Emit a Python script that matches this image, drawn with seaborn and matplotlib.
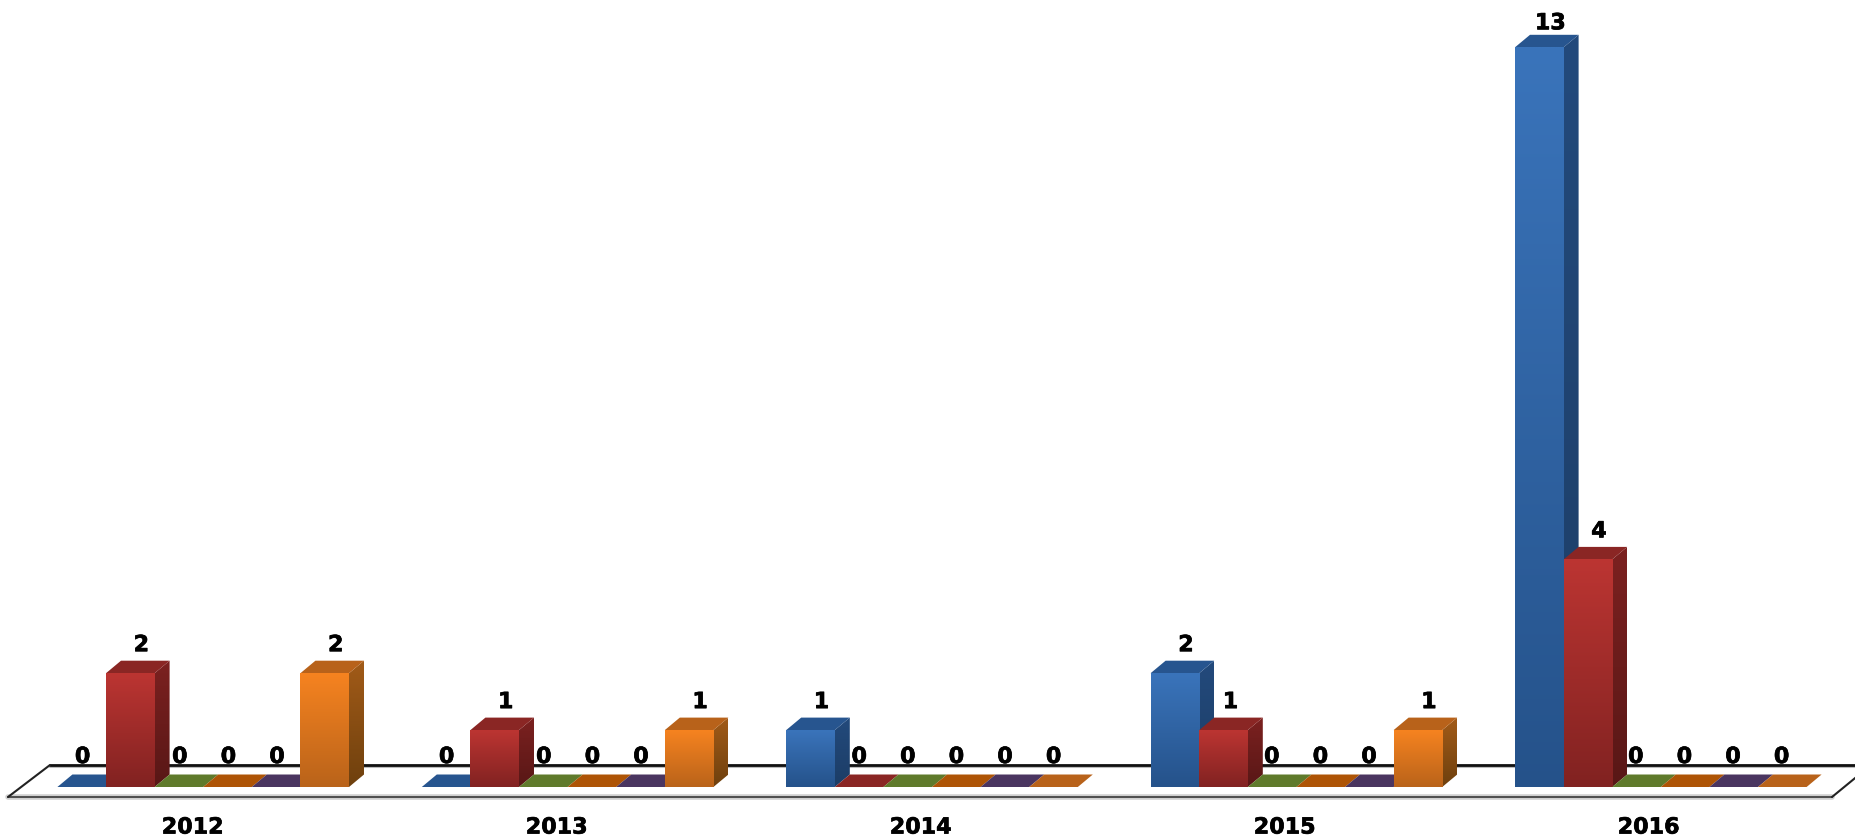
import numpy as np
import pandas as pd
import seaborn as sns
import matplotlib.pyplot as plt
import matplotlib.patheffects as pe
from matplotlib.colors import LinearSegmentedColormap
from matplotlib.patches import Polygon
from matplotlib.transforms import ScaledTranslation

years = ["2012", "2013", "2014", "2015", "2016"]
series_names = ["s1", "s2", "s3", "s4", "s5", "s6"]
s1 = [0, 0, 1, 2, 13]
s2 = [2, 1, 0, 1, 4]
s3 = [0, 0, 0, 0, 0]
s4 = [0, 0, 0, 0, 0]
s5 = [0, 0, 0, 0, 0]
s6 = [2, 1, 0, 1, 0]

# front top, front bottom, roof, side top, side bottom
shades = [
    ("#3a74bb", "#25528a", "#27558f", "#234a7c", "#1c3d66"),
    ("#bc3532", "#812221", "#8a2624", "#7c2120", "#581716"),
    ("#7f9f3c", "#5f7a2b", "#5f7a2b", "#566f28", "#42561e"),
    ("#d96a0a", "#ae5405", "#ae5405", "#9a4a05", "#743804"),
    ("#6a4c8c", "#4a3560", "#4a3560", "#433058", "#332545"),
    ("#f68320", "#b9631a", "#b8621a", "#a25b18", "#6e400e"),
]

W, H = 1856, 839
BASE = 787      # pixel row of the bars' front bottom edge
UNIT = 56.9     # pixels per count
STEP = 364.4    # pixels between years
FIRST = 203.2   # pixel column of the first group's centre
BAR = 48.6      # bar width in pixels
DX, DY = 15, 12.5 # 3d depth in pixels

df = pd.DataFrame({"year": years, "s1": s1, "s2": s2, "s3": s3, "s4": s4, "s5": s5, "s6": s6})
df = df.melt(id_vars="year", var_name="series", value_name="count")

sns.set_style("white")
plt.rcParams["font.family"] = ["DejaVu Sans"]

fig = plt.figure(figsize=(W / 100, H / 100), dpi=100)
ax = fig.add_axes([0, (H - BASE) / H, 1, BASE / H])
sns.barplot(data=df, x="year", y="count", hue="series", order=years, hue_order=series_names,
            width=6 * BAR / STEP, dodge=True, gap=0, legend=False, ax=ax, linewidth=0, errorbar=None)

ax.set_xlim(-FIRST / STEP, (W - FIRST) / STEP)
ax.set_ylim(0, BASE / UNIT)
ax.set_xlabel("")
ax.set_ylabel("")
ax.set_yticks([])
sns.despine(ax=ax, left=True, bottom=True)
ax.patch.set_alpha(0)
ax.tick_params(axis="x", length=0, pad=22)
heavy = [pe.withStroke(linewidth=0.5, foreground="black")]
for i, lab in enumerate(ax.get_xticklabels()):
    lab.set_fontsize(16)
    lab.set_fontweight("bold")
    lab.set_color("black")
    lab.set_path_effects(heavy)
    lab.set_transform(lab.get_transform() + ScaledTranslation((-10.5 - 0.4 * i) / 100, 0, fig.dpi_scale_trans))


# floor of the 3d scene, in figure pixels
def px(x, y):
    return (x / W, 1 - y / H)


floor = [px(8, 797), px(1832, 797), px(1871, 765), px(50, 765)]
fig.add_artist(Polygon(floor, closed=True, facecolor="white", edgecolor="none", zorder=0.5))
fig.add_artist(plt.Line2D(*zip(px(50, 767), px(1856, 767)), color="#bbbbbb", lw=1.5, zorder=0.6))
fig.add_artist(plt.Line2D(*zip(px(50, 765), px(1856, 765)), color="#111111", lw=2, zorder=0.7))
fig.add_artist(plt.Line2D(*zip(px(8, 797), px(1832, 797)), color="#d0d0d0", lw=4, zorder=0.6))
fig.add_artist(plt.Line2D(*zip(px(8, 796.5), px(1832, 796.5)), color="#444444", lw=1.3, zorder=0.7))
fig.add_artist(plt.Line2D(*zip(px(8, 797), px(50, 765)), color="#222222", lw=1.5, zorder=0.7))
fig.add_artist(plt.Line2D(*zip(px(1832, 797), px(1871, 765)), color="#222222", lw=1.5, zorder=0.7))
ax.set_zorder(1)

ddx = DX / STEP
ddy = DY / UNIT


def ramp(top, bottom):
    return LinearSegmentedColormap.from_list("r", [bottom, top])


grad = np.linspace(0, 1, 256).reshape(-1, 1)
tallest = df["count"].max()
for k, cont in enumerate(ax.containers):
    front_top, front_bot, roof, side_top, side_bot = shades[k]
    for i, bar in enumerate(cont.patches):
        x0 = bar.get_x()
        w = bar.get_width()
        h = bar.get_height()
        z = 2 + x0 * 10 + k * 0.01
        bar.set_zorder(z)
        bar.set_facecolor(front_bot)
        if h > 0:
            ax.imshow(grad, origin="lower", extent=[x0, x0 + w, 0, h], aspect="auto",
                      cmap=ramp(front_top, front_bot), zorder=z, interpolation="bilinear")
            side = ax.imshow(grad, origin="lower", extent=[x0 + w, x0 + w + ddx, 0, h + ddy], aspect="auto",
                             cmap=ramp(side_top, side_bot), zorder=z - 0.001, interpolation="bilinear")
            side_shape = Polygon([(x0 + w, 0), (x0 + w + ddx, ddy), (x0 + w + ddx, h + ddy), (x0 + w, h)],
                                 closed=True, transform=ax.transData, facecolor="none", edgecolor="none")
            ax.add_patch(side_shape)
            side.set_clip_path(side_shape)
        ax.add_patch(Polygon([(x0, h), (x0 + w, h), (x0 + w + ddx, h + ddy), (x0 + ddx, h + ddy)],
                             closed=True, facecolor=roof, edgecolor="none", zorder=z - 0.001))
        if h > 0:
            xoff = 11
            yoff = 24 if h == tallest else 28
            if i == 3 and k == 1:
                xoff = 7
        else:
            xoff = 1 - 0.4 * i
            yoff = 30
        ax.annotate(f"{h:.0f}", (x0 + w / 2, h), xytext=(xoff, yoff), textcoords="offset pixels",
                    ha="center", va="center", fontsize=16, fontweight="bold", color="black",
                    zorder=50, annotation_clip=False, path_effects=heavy)

ax.set_xlim(-FIRST / STEP, (W - FIRST) / STEP)
ax.set_ylim(0, BASE / UNIT)

fig.savefig("out.png", dpi=100, facecolor="white")
